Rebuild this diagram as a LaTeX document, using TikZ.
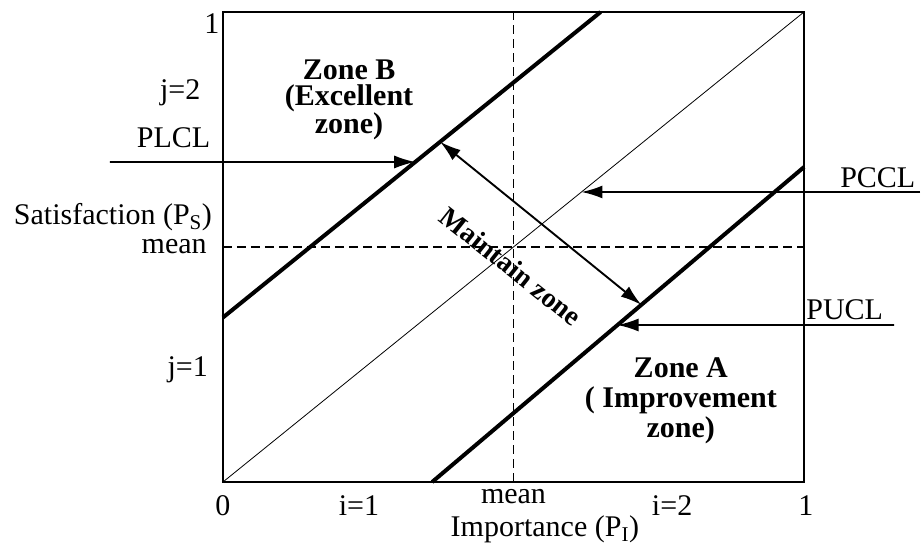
\documentclass[tikz,border=0pt]{standalone}
\usepackage{fontspec}
\setmainfont{Liberation Serif}
\usetikzlibrary{arrows.meta,positioning}

\tikzset{
    lbl/.style={font=\fontsize{30}{34}\selectfont, inner sep=1pt},
    zonelbl/.style={font=\fontsize{30}{26}\selectfont\bfseries, align=center, inner sep=0pt},
    ctrlline/.style={line width=4pt},
    meanline/.style={line width=1.4pt, dash pattern=on 9pt off 5pt},
    callout/.style={line width=1.7pt, -{Latex[length=21pt,width=13pt]}},
    twoway/.style={line width=1.9pt, {Latex[length=21pt,width=13pt]}-{Latex[length=21pt,width=13pt]}}
}

\begin{document}
\begin{tikzpicture}[x=581pt, y=470pt]
    \useasboundingbox (-0.3838,-0.1383) rectangle (1.2031,1.0255);

    % frame and mean lines
    \draw[line width=2pt] (0,0) rectangle (1,1);
    \draw[meanline] (0.5,0) -- (0.5,1);
    \draw[meanline] (0,0.5) -- (1,0.5);

    % control lines
    \draw[line width=0.8pt] (0,0) -- (1,1) coordinate[pos=0.617] (pcclpt);
    \draw[ctrlline] (0,0.35) -- (0.65,1)
        coordinate[pos=0.509] (plclpt)
        coordinate[pos=0.575] (maintop);
    \draw[ctrlline] (0.36,0) -- (1,0.67)
        coordinate[pos=0.4985] (puclpt)
        coordinate[pos=0.5625] (mainbot);

    % arrows to the limits
    \coordinate (plclstart) at (-0.1945,0.681);
    \coordinate (pcclstart) at (1.2,0.617);
    \coordinate (puclstart) at (1.155,0.334);
    \draw[callout] (plclstart) -- (plclpt);
    \draw[callout] (pcclstart) -- (pcclpt);
    \draw[callout] (puclstart) -- (puclpt);
    \draw[twoway] (maintop) -- (mainbot);

    % zones
    \node[zonelbl] (zoneB) at (0.217,0.813) {Zone B\\(Excellent\\zone)};
    \node[zonelbl, font=\fontsize{30}{30}\selectfont\bfseries] (zoneA) at (0.788,0.172) {Zone A\\( Improvement\\zone)};
    \node[zonelbl, font=\fontsize{28}{30}\selectfont\bfseries, rotate=-38.5] (maintain) at (0.496,0.459) {Maintain zone};

    % axis labels
    \node[lbl, anchor=east] (ytop) at (-0.004,0.976) {1};
    \node[lbl, anchor=east] (jtwo) at (-0.037,0.828) {j=2};
    \node[lbl, anchor=east] (plcltxt) at (-0.020,0.732) {PLCL};
    \node[lbl, anchor=east] (ylab) at (-0.017,0.564) {Satisfaction (P\textsubscript{S})};
    \node[lbl, anchor=east] (ymean) at (-0.026,0.5) {mean};
    \node[lbl, anchor=east] (jone) at (-0.024,0.238) {j=1};

    \node[lbl] (xzero) at (0,-0.05) {0};
    \node[lbl] (ione) at (0.234,-0.05) {i=1};
    \node[lbl] (xmean) at (0.5,-0.03) {mean};
    \node[lbl] (itwo) at (0.773,-0.05) {i=2};
    \node[lbl] (xone) at (1.003,-0.05) {1};
    \node[lbl] (xlab) at (0.554,-0.1) {Importance (P\textsubscript{I})};

    \node[lbl] (pccltxt) at (1.127,0.647) {PCCL};
    \node[lbl] (pucltxt) at (1.070,0.366) {PUCL};
\end{tikzpicture}
\end{document}
